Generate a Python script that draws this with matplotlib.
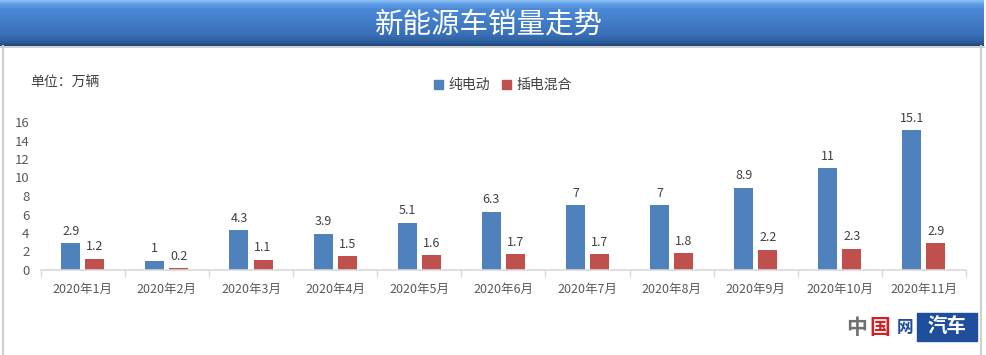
import numpy as np
import matplotlib
matplotlib.use("Agg")
import matplotlib.pyplot as plt
from matplotlib.patches import Patch, Rectangle
from matplotlib.lines import Line2D
from matplotlib.colors import LinearSegmentedColormap

plt.rcParams['font.family'] = ['Noto Sans CJK SC', 'DejaVu Sans']

categories = ["2020年1月", "2020年2月", "2020年3月", "2020年4月", "2020年5月", "2020年6月",
              "2020年7月", "2020年8月", "2020年9月", "2020年10月", "2020年11月"]
bev = [2.9, 1, 4.3, 3.9, 5.1, 6.3, 7, 7, 8.9, 11, 15.1]
phev = [1.2, 0.2, 1.1, 1.5, 1.6, 1.7, 1.7, 1.8, 2.2, 2.3, 2.9]
series_names = ["纯电动", "插电混合"]
yticks = [0, 2, 4, 6, 8, 10, 12, 14, 16]
title = "新能源车销量走势"
unit = "单位：万辆"

W, H = 986, 355
fig = plt.figure(figsize=(W / 100, H / 100), dpi=100)
fig.patch.set_facecolor("white")

def fx(px):
    return px / W

def fy(py):
    return 1 - py / H

# frame borders
fig.add_artist(Line2D([fx(3), fx(3)], [fy(46), fy(355)], color="#d0d0d0", lw=1.5))
fig.add_artist(Line2D([fx(981), fx(981)], [fy(46), fy(355)], color="#d0d0d0", lw=1.5))

# title banner with gradient
bax = fig.add_axes([0, fy(46), fx(984), 46 / H])
grad = np.linspace(0, 1, 100).reshape(-1, 1)
cmap = LinearSegmentedColormap.from_list("b", [(0, "#8ec0f5"), (0.08, "#5f9de6"), (0.2, "#4a88d6"),
                                               (0.75, "#3a70b8"), (0.93, "#2c5c9c"), (1, "#1f4778")])
bax.imshow(grad, aspect="auto", cmap=cmap, extent=[0, 1, 1, 0])
bax.set_axis_off()
bax.text(0.497, 0.47, title, color="white", fontsize=20.5, ha="center", va="center",
         transform=bax.transAxes)
fig.add_artist(Line2D([0, fx(984)], [fy(47), fy(47)], color="#c8c8c8", lw=1.2))

# main axes
ax = fig.add_axes([fx(40.7), fy(270), fx(966) - fx(40.7), (270 - 122) / H])
x = np.arange(len(categories))
bw = 0.226
off = 0.143
b1 = ax.bar(x - off, bev, bw, color="#4f81bd")
b2 = ax.bar(x + off, phev, bw, color="#c0504d")
for bars, vals in ((b1, bev), (b2, phev)):
    for r, v in zip(bars, vals):
        ax.annotate(f"{v:g}", (r.get_x() + r.get_width() / 2, v), xytext=(0, 4),
                    textcoords="offset points", ha="center", va="bottom",
                    fontsize=9, color="#404040")

ax.set_xlim(-0.5, len(categories) - 0.5)
ax.set_ylim(0, 16)
ax.set_yticks(yticks)
ax.set_xticks(x)
ax.set_xticklabels(categories)
ax.set_xticks(np.arange(-0.5, len(categories)), minor=True)
ax.tick_params(axis="x", which="major", length=0, pad=9, labelsize=9, labelcolor="#595959")
ax.tick_params(axis="x", which="minor", length=5, color="#d9d9d9", width=1)
ax.tick_params(axis="y", length=0, pad=8, labelsize=9.5, labelcolor="#595959")
for s in ("top", "right", "left"):
    ax.spines[s].set_visible(False)
ax.spines["bottom"].set_color("#d9d9d9")
ax.spines["bottom"].set_linewidth(1.2)
ax.set_facecolor("none")

# unit label
fig.text(fx(30), fy(83), unit, fontsize=10, color="#404040", ha="left", va="center")

# legend
handles = [Patch(color="#4f81bd"), Patch(color="#c0504d")]
fig.legend(handles, series_names, loc="center", bbox_to_anchor=(fx(503), fy(85)), ncol=2,
           frameon=False, fontsize=10, handlelength=0.6, handleheight=0.6,
           handletextpad=0.4, columnspacing=0.9, labelcolor="#404040")

# watermark
fig.text(fx(857), fy(327), "中", fontsize=15, color="#707070", ha="center", va="center", fontweight="bold")
fig.text(fx(880), fy(327), "国", fontsize=15, color="#d42020", ha="center", va="center", fontweight="bold")
fig.text(fx(905), fy(328), "网", fontsize=12, color="#1f4e9c", ha="center", va="center", fontweight="bold")
fig.add_artist(Rectangle((fx(917), fy(341)), fx(60), 28 / H, color="#1f4e9c", transform=fig.transFigure))
fig.text(fx(947), fy(327), "汽车", fontsize=14, color="white", ha="center", va="center", fontweight="bold")

fig.savefig("out.png", dpi=100, facecolor="white")
